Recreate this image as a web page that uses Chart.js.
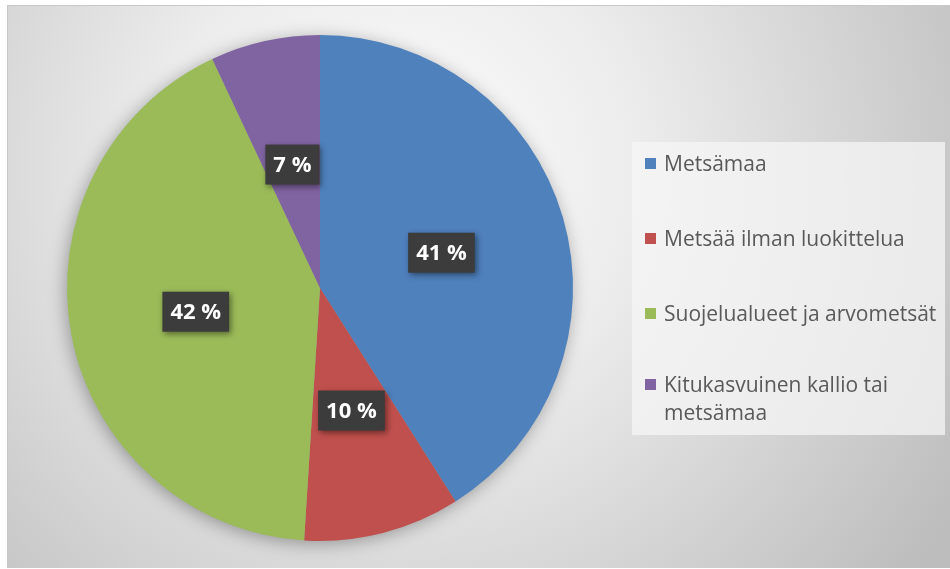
<!DOCTYPE html>
<html>
<head>
<meta charset="utf-8">
<script src="https://cdn.jsdelivr.net/npm/chart.js@4.4.1/dist/chart.umd.min.js"></script>
<style>
    body { margin: 0; background: #fff; }
    #wrap { position: relative; width: 950px; height: 569px; }
    #legendBox {
        position: absolute; left: 632px; top: 142px; width: 313px; height: 293px;
        background: rgba(245, 245, 245, 0.75);
        font-family: "Open Sans", sans-serif; font-size: 21px; color: #595959;
    }
    .item { position: absolute; left: 13px; line-height: 28px; }
    .item i { position: absolute; left: 0; top: 9px; width: 11px; height: 11px; }
    .item span { display: block; margin-left: 19px; }
</style>
</head>
<body>
<div id="wrap">
    <canvas id="pie" width="950" height="569"></canvas>
    <div id="legendBox"></div>
</div>
<script>
// data
var labels = ['Metsämaa', 'Metsää ilman luokittelua', 'Suojelualueet ja arvometsät', 'Kitukasvuinen kallio tai metsämaa'];
var legendLines = [['Metsämaa'], ['Metsää ilman luokittelua'], ['Suojelualueet ja arvometsät'], ['Kitukasvuinen kallio tai', 'metsämaa']];
var values = [41, 10, 42, 7];
var colors = ['#4f81bd', '#c0504d', '#9bbb59', '#8064a2'];
var legendTops = [7, 82, 157, 228];

// legend
var box = document.getElementById('legendBox');
for (var i = 0; i < labels.length; i++) {
    var d = document.createElement('div');
    d.className = 'item';
    d.style.top = legendTops[i] + 'px';
    d.innerHTML = '<i style="background:' + colors[i] + '"></i><span>' + legendLines[i].join('<br>') + '</span>';
    box.appendChild(d);
}

var backgroundPlugin = {
    id: 'bg',
    beforeDraw: function(chart) {
        var ctx = chart.ctx;
        ctx.save();
        ctx.fillStyle = '#ffffff';
        ctx.fillRect(0, 0, chart.width, chart.height);
        var g = ctx.createRadialGradient(400, 170, 20, 400, 170, 650);
        g.addColorStop(0, '#fbfbfb');
        g.addColorStop(0.35, '#ececec');
        g.addColorStop(1, '#bdbdbd');
        ctx.fillStyle = g;
        ctx.fillRect(7, 5, 943, 563);
        ctx.strokeStyle = '#c8c8c8';
        ctx.lineWidth = 1;
        ctx.beginPath();
        ctx.moveTo(7.5, 568);
        ctx.lineTo(7.5, 5.5);
        ctx.lineTo(950, 5.5);
        ctx.stroke();
        ctx.restore();
    },
    beforeDatasetsDraw: function(chart) {
        var arc = chart.getDatasetMeta(0).data[0];
        if (!arc) return;
        var ctx = chart.ctx;
        ctx.save();
        ctx.shadowColor = 'rgba(0,0,0,0.35)';
        ctx.shadowBlur = 18;
        ctx.shadowOffsetX = -2;
        ctx.shadowOffsetY = 3;
        ctx.fillStyle = '#999';
        ctx.beginPath();
        ctx.arc(arc.x, arc.y, arc.outerRadius - 1, 0, Math.PI * 2);
        ctx.fill();
        ctx.restore();
    }
};

var labelPlugin = {
    id: 'boxLabels',
    afterDatasetsDraw: function(chart) {
        var ctx = chart.ctx;
        var meta = chart.getDatasetMeta(0);
        ctx.save();
        ctx.font = 'bold 22px "Open Sans", sans-serif';
        ctx.textAlign = 'center';
        ctx.textBaseline = 'middle';
        meta.data.forEach(function(el, i) {
            var p = el.tooltipPosition();
            var txt = values[i] + ' %';
            var w = ctx.measureText(txt).width + 16;
            var h = 40;
            ctx.shadowColor = 'rgba(0,0,0,0.45)';
            ctx.shadowBlur = 6;
            ctx.shadowOffsetX = 2;
            ctx.shadowOffsetY = 2;
            ctx.fillStyle = '#3c3c3c';
            ctx.fillRect(p.x - w / 2, p.y - h / 2, w, h);
            ctx.shadowColor = 'transparent';
            ctx.fillStyle = '#ffffff';
            ctx.fillText(txt, p.x, p.y + 1);
        });
        ctx.restore();
    }
};

var ctx = document.getElementById('pie').getContext('2d');
var chart = new Chart(ctx, {
    type: 'pie',
    data: {
        labels: labels,
        datasets: [{
            data: values,
            backgroundColor: colors,
            borderWidth: 0
        }]
    },
    options: {
        responsive: false,
        animation: false,
        layout: {
            padding: { left: 67, top: 35, right: 377, bottom: 28 }
        },
        plugins: {
            legend: { display: false },
            tooltip: { enabled: false }
        }
    },
    plugins: [backgroundPlugin, labelPlugin]
});
</script>
</body>
</html>
